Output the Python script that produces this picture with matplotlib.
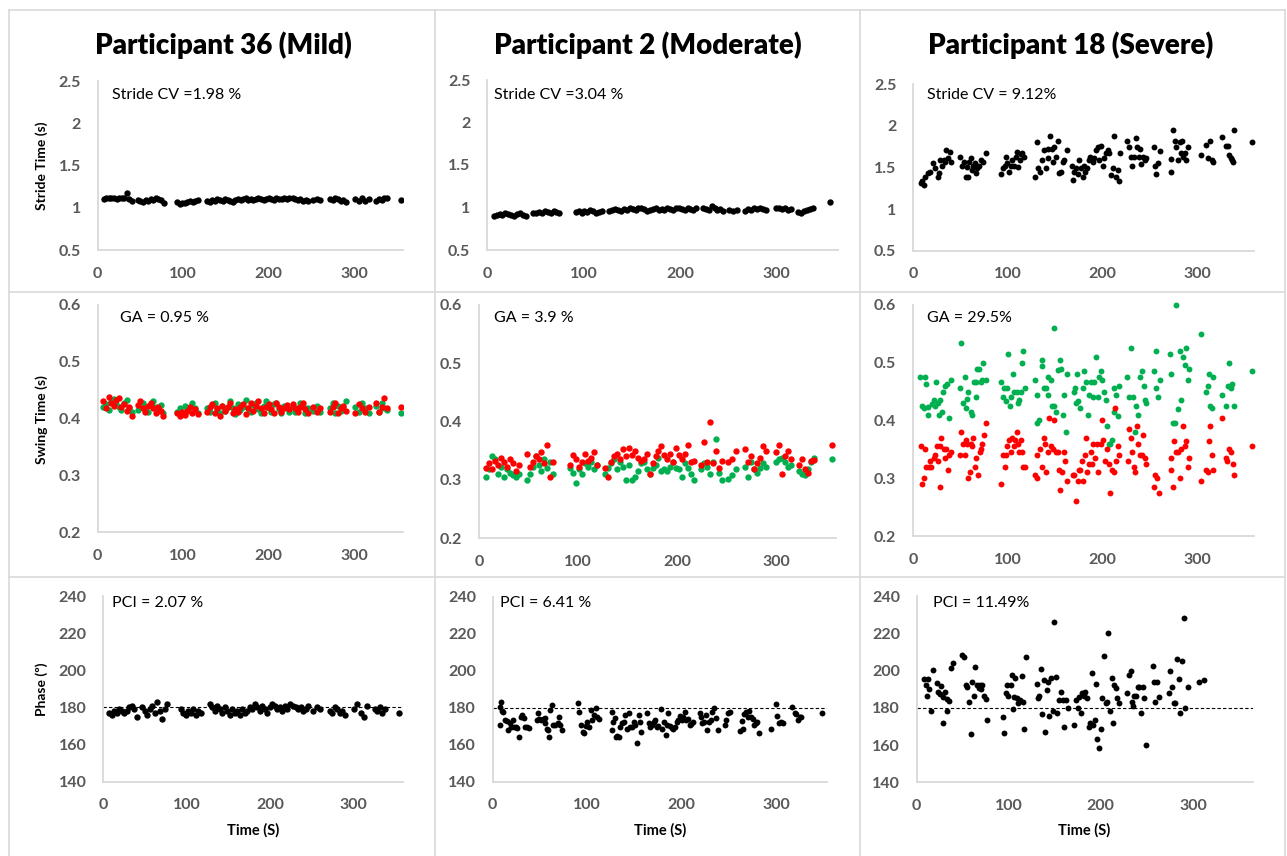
import matplotlib.pyplot as plt
from matplotlib.lines import Line2D

plt.rcParams['font.family'] = ['Lato', 'DejaVu Sans']

# ---------------- datos ----------------
titulos = ['Participant 36 (Mild)', 'Participant 2 (Moderate)', 'Participant 18 (Severe)']
textos_stride = ['Stride CV =1.98 %', 'Stride CV =3.04 %', 'Stride CV = 9.12%']
textos_ga = ['GA = 0.95 %', 'GA = 3.9 %', 'GA = 29.5%']
textos_pci = ['PCI = 2.07 %', 'PCI = 6.41 %', 'PCI = 11.49%']

xticks = [0, 100, 200, 300]
stride_ticks = [0.5, 1, 1.5, 2, 2.5]
stride_labels = ['0.5', '1', '1.5', '2', '2.5']
swing_ticks = [0.2, 0.3, 0.4, 0.5, 0.6]
swing_labels = ['0.2', '0.3', '0.4', '0.5', '0.6']
phase_ticks = [140, 160, 180, 200, 220, 240]
phase_labels = ['140', '160', '180', '200', '220', '240']

# Participante 36 (leve): tiempos de zancada
t36 = [7, 10, 13, 16, 19, 22, 25, 28, 31, 34, 37, 40,
       47, 50, 53, 56, 59, 62, 65, 68, 71, 74, 77,
       93, 96, 99, 102, 105, 108, 111, 114, 117,
       128, 131, 134, 137, 140, 143, 146, 149, 152, 155, 158, 161, 164, 167, 170, 173, 176,
       179, 182, 185, 188, 191, 194, 197, 200, 203, 206, 209, 212, 215, 218, 221, 224,
       228, 231, 234, 237, 240, 243, 246,
       252, 256, 260,
       272, 275, 278, 281, 284, 287, 290,
       301, 305, 309, 313, 317,
       326, 329, 332, 335, 338,
       355]
stride36 = [1.10, 1.11, 1.12, 1.11, 1.12, 1.10, 1.11, 1.12, 1.11, 1.17, 1.10, 1.08,
            1.09, 1.08, 1.07, 1.09, 1.08, 1.10, 1.09, 1.11, 1.10, 1.09, 1.06,
            1.07, 1.05, 1.06, 1.06, 1.07, 1.08, 1.07, 1.08, 1.09,
            1.08, 1.07, 1.09, 1.08, 1.10, 1.09, 1.08, 1.10, 1.09, 1.08, 1.07, 1.09, 1.10, 1.09, 1.10, 1.11, 1.09,
            1.10, 1.09, 1.10, 1.11, 1.10, 1.09, 1.10, 1.11, 1.10, 1.09, 1.11, 1.10, 1.10, 1.11, 1.10, 1.12,
            1.11, 1.10, 1.09, 1.10, 1.08, 1.09, 1.08,
            1.09, 1.10, 1.09,
            1.10, 1.09, 1.11, 1.10, 1.08, 1.09, 1.07,
            1.10, 1.08, 1.11, 1.08, 1.10,
            1.08, 1.10, 1.09, 1.11, 1.12,
            1.09]
swing36_l = [0.420, 0.425, 0.415, 0.430, 0.435, 0.425, 0.420, 0.415, 0.428, 0.432, 0.418, 0.412,
             0.415, 0.422, 0.428, 0.418, 0.412, 0.425, 0.430, 0.420, 0.414, 0.424, 0.410,
             0.412, 0.418, 0.408, 0.422, 0.415, 0.420, 0.428, 0.418, 0.410,
             0.418, 0.412, 0.424, 0.428, 0.416, 0.410, 0.422, 0.414, 0.420, 0.430, 0.418, 0.408, 0.425, 0.415,
             0.420, 0.432, 0.418, 0.412, 0.424, 0.428, 0.416, 0.410, 0.422, 0.430, 0.418, 0.412, 0.425, 0.428,
             0.416, 0.410, 0.422, 0.418, 0.412,
             0.420, 0.412, 0.418, 0.428, 0.422, 0.410, 0.418,
             0.414, 0.422, 0.412,
             0.418, 0.428, 0.410, 0.422, 0.414, 0.420, 0.430,
             0.420, 0.412, 0.428, 0.418, 0.410,
             0.422, 0.412, 0.428, 0.418, 0.415,
             0.410]
swing36_r = [0.430, 0.418, 0.438, 0.428, 0.422, 0.432, 0.436, 0.420, 0.426, 0.414, 0.420, 0.405,
             0.424, 0.430, 0.418, 0.412, 0.422, 0.428, 0.418, 0.410, 0.420, 0.414, 0.405,
             0.410, 0.404, 0.412, 0.406, 0.414, 0.420, 0.410, 0.416, 0.408,
             0.412, 0.420, 0.426, 0.410, 0.418, 0.405, 0.422, 0.414, 0.420, 0.428, 0.410, 0.416, 0.412, 0.420,
             0.426, 0.408, 0.418, 0.428, 0.414, 0.422, 0.430, 0.418, 0.410, 0.420, 0.426, 0.416, 0.410, 0.428,
             0.420, 0.412, 0.418, 0.424, 0.416,
             0.426, 0.418, 0.412, 0.420, 0.428, 0.416, 0.410,
             0.420, 0.412, 0.418,
             0.412, 0.420, 0.428, 0.410, 0.418, 0.422, 0.414,
             0.410, 0.426, 0.418, 0.412, 0.420,
             0.428, 0.412, 0.420, 0.436, 0.418,
             0.420]
phase36 = [177, 176, 178, 177, 179, 178, 177, 178, 180, 181, 179, 175,
           180, 178, 176, 179, 181, 177, 183, 178, 174, 179, 182,
           179, 177, 176, 178, 177, 179, 176, 178, 177,
           182, 180, 178, 181, 179, 177, 180, 178, 176, 179, 177, 178, 176, 179, 177, 178, 180,
           179, 182, 180, 178, 181, 179, 177, 180, 182, 181, 179, 180, 178, 181, 179, 182,
           181, 180, 179, 180, 178, 179, 181,
           178, 180, 179,
           178, 177, 180, 179, 177, 178, 176,
           179, 182, 177, 175, 181,
           179, 178, 180, 177, 179,
           177]

# Participante 2 (moderado)
t2 = [7, 10, 13, 16, 19, 22, 25, 28, 31, 34, 37, 40,
      48, 51, 54, 57, 60, 63, 66, 69, 72, 75,
      92, 95, 98, 101, 104, 107, 110, 113, 116, 119,
      127, 130, 133, 136, 139, 142, 145, 148, 151, 154, 157, 160, 163, 166, 169, 172,
      175, 178, 181, 184, 187, 190, 193, 196, 199, 202, 205, 208, 211, 214, 217,
      224, 227, 230, 233, 236, 239, 242, 245,
      251, 255, 259,
      268, 271, 274, 277, 280, 283, 286, 289,
      300, 303, 306, 309, 312, 315,
      323, 326, 329, 332, 335, 338,
      356]
stride2 = [0.90, 0.91, 0.92, 0.91, 0.93, 0.92, 0.91, 0.90, 0.92, 0.93, 0.91, 0.90,
           0.93, 0.94, 0.95, 0.94, 0.96, 0.95, 0.94, 0.96, 0.95, 0.93,
           0.95, 0.96, 0.94, 0.96, 0.95, 0.97, 0.96, 0.94, 0.95, 0.96,
           0.96, 0.97, 0.98, 0.97, 0.96, 0.98, 0.97, 0.99, 0.98, 0.97, 0.99, 1.00, 0.98, 0.96, 0.97, 0.98,
           0.99, 0.97, 0.98, 0.97, 0.99, 0.98, 0.97, 0.99, 1.00, 0.98, 0.97, 0.99, 0.98, 0.97, 0.99,
           1.00, 0.98, 0.97, 1.02, 0.99, 0.97, 0.98, 0.96,
           0.97, 0.96, 0.97,
           0.96, 0.98, 0.97, 0.99, 0.98, 1.00, 0.98, 0.97,
           0.99, 1.00, 0.98, 0.99, 0.97, 0.98,
           0.95, 0.94, 0.96, 0.97, 0.98, 0.99,
           1.06]
swing2_r = [0.320, 0.328, 0.318, 0.332, 0.325, 0.338, 0.330, 0.322, 0.336, 0.328, 0.315, 0.325,
            0.345, 0.322, 0.330, 0.340, 0.335, 0.348, 0.328, 0.360, 0.305, 0.330,
            0.325, 0.342, 0.335, 0.322, 0.330, 0.345, 0.332, 0.338, 0.348, 0.326,
            0.320, 0.305, 0.330, 0.340, 0.345, 0.335, 0.352, 0.340, 0.355, 0.342, 0.350, 0.338, 0.332, 0.335,
            0.345, 0.310, 0.328, 0.340, 0.350, 0.358, 0.342, 0.335, 0.345, 0.330, 0.355, 0.342, 0.336, 0.345,
            0.360, 0.330, 0.332,
            0.325, 0.365, 0.330, 0.400, 0.328, 0.350, 0.320, 0.332,
            0.330, 0.335, 0.350,
            0.352, 0.330, 0.340, 0.318, 0.328, 0.338, 0.358, 0.350,
            0.348, 0.360, 0.310, 0.340, 0.350, 0.336,
            0.325, 0.335, 0.318, 0.312, 0.332, 0.334,
            0.360]
swing2_l = [0.305, 0.318, 0.340, 0.335, 0.310, 0.322, 0.305, 0.318, 0.312, 0.308, 0.305, 0.310,
            0.300, 0.310, 0.322, 0.340, 0.325, 0.315, 0.335, 0.320, 0.330, 0.310,
            0.320, 0.312, 0.295, 0.318, 0.310, 0.328, 0.322, 0.330, 0.318, 0.325,
            0.310, 0.320, 0.328, 0.335, 0.318, 0.330, 0.322, 0.300, 0.325, 0.300, 0.305, 0.315, 0.328, 0.330,
            0.318, 0.310, 0.320, 0.325, 0.338, 0.315, 0.318, 0.315, 0.322, 0.330, 0.320, 0.318, 0.305, 0.328,
            0.320, 0.310, 0.300,
            0.318, 0.328, 0.322, 0.310, 0.330, 0.370, 0.312, 0.300,
            0.302, 0.308, 0.318,
            0.322, 0.305, 0.330, 0.318, 0.312, 0.320, 0.328, 0.322,
            0.330, 0.335, 0.338, 0.330, 0.322, 0.325,
            0.315, 0.310, 0.308, 0.318, 0.330, 0.338,
            0.335]
phase2 = [(8.7, 182.9), (7.7, 180.2), (9.4, 178.4), (7.7, 170.6), (11.2, 177.8), (12.9, 173.3),
          (15.4, 173), (16.4, 167.9), (18.2, 171.5), (19.9, 169.7), (21, 173.3), (22.7, 169.4),
          (24.5, 169.7), (25.9, 168.8), (28, 164), (29.7, 175.1), (31.5, 176), (32.9, 174.2),
          (33.9, 169.4), (36.4, 169.4), (38.5, 168.8), (47.9, 176.9), (46.9, 173.3), (49, 173.9),
          (51.4, 173.3), (53.1, 173.9), (54.9, 174.6), (55.9, 171.9), (57.3, 168.3), (58.4, 167.9),
          (60.1, 164), (60.8, 178.7), (62.6, 181.4), (64.3, 170.6), (66.4, 170.6), (68.9, 171.5),
          (70.6, 175.1), (71.7, 170.6), (73.4, 167.9), (89.9, 182.7), (91.6, 177.8), (93.4, 170.6),
          (95.1, 167), (96.9, 166.1), (98.6, 170.1), (100.3, 172.4), (102.1, 169.4), (103.8, 178.7),
          (105.6, 173.3), (107.3, 176), (109.1, 179.6), (110.8, 174.8), (112.6, 173.7),
          (125.9, 177.8), (125.9, 167.9), (127.6, 172.4), (129.4, 174.2), (130.1, 164), (131.8, 164.7),
          (133.6, 164.3), (135.3, 169.4), (137.1, 171.5), (138.8, 172.4), (140.6, 176), (142.3, 168.3),
          (144, 176.9), (145.8, 169.4), (147.6, 169.4), (149.3, 172.4), (151, 170.6), (152.8, 161.1),
          (154.5, 176), (155.6, 172.4), (157.3, 167), (163.3, 176.9), (165, 171.5), (166.8, 169.4),
          (168.5, 170.6), (170.3, 172.4), (172, 173.3), (173.8, 169.4), (175.5, 170.1), (178, 179.1),
          (179.7, 168.3), (181.5, 172.4), (183.2, 165.2), (185, 170.6), (186, 176.9), (187.8, 170.1),
          (189.5, 168.8), (191.3, 168.3), (193, 169.4), (194.8, 172.4), (196.5, 173.3), (198.3, 175.5),
          (200, 173.3), (201.7, 174.8), (203.5, 177.8), (205.2, 173.3), (207, 173.7), (208.7, 170.6),
          (210.5, 171.2), (212.2, 172.4), (219.2, 176.9), (221, 174.8), (221.7, 171.5), (223.8, 172.4),
          (226.2, 176), (227.3, 167.9), (229, 172.4), (230.8, 173.3), (232.5, 177.8), (234.3, 179.6),
          (236, 174.2), (238.5, 167.9), (245.5, 170.6), (247.2, 173.3), (249, 176.9), (251.7, 177.8),
          (262.2, 167.6), (263.6, 173), (264.7, 168.3), (266.4, 176.6), (268.2, 177.8), (269.9, 174.8),
          (271.7, 178.4), (273.4, 175.1), (275.2, 173.7), (276.9, 170.6), (278.7, 171.9), (280.4, 172.4),
          (282.2, 166.1), (294.4, 168.3), (299.7, 182), (301.4, 175.5), (303.1, 171.5), (305.6, 172.4),
          (307.7, 171.9), (317.1, 180.2), (319.6, 177.3), (321.7, 176.6), (323.1, 173.3), (325.2, 174.8),
          (326.6, 175.1), (348.6, 177.3)]

# Participante 18 (severo)
stride18 = [(8.5, 1.31), (9.5, 1.34), (11.3, 1.29), (13, 1.39), (15.9, 1.43), (17.7, 1.45), (21.2, 1.55),
            (23.7, 1.49), (26, 1.38), (27.6, 1.43), (29, 1.59), (30.7, 1.52), (32.5, 1.59), (34.3, 1.56),
            (35.3, 1.71), (36.7, 1.61), (38.9, 1.68), (39.6, 1.56), (49.5, 1.62), (52, 1.52), (53.7, 1.56),
            (55.5, 1.39), (56.5, 1.50), (58, 1.38), (59, 1.56), (60.8, 1.61), (62.5, 1.47), (63.6, 1.52),
            (65, 1.55), (66, 1.43), (67.8, 1.49), (69.6, 1.52), (71.4, 1.59), (74.2, 1.56), (76.7, 1.67),
            (93.3, 1.42), (95.4, 1.49), (97, 1.52), (98.6, 1.63), (99.6, 1.55), (101.4, 1.45), (103.2, 1.52),
            (105, 1.59), (106.7, 1.52), (108.5, 1.63), (110.2, 1.68), (111.3, 1.50), (113, 1.59),
            (114.5, 1.66), (115.5, 1.67), (117.3, 1.63), (128.6, 1.39), (131.4, 1.81), (132, 1.49),
            (134.3, 1.45), (136.7, 1.59), (138.5, 1.71), (140.3, 1.49), (142, 1.72), (142.8, 1.61),
            (145, 1.88), (146.3, 1.72), (147.3, 1.56), (149, 1.75), (150.9, 1.63), (152.7, 1.82),
            (154.4, 1.43), (156, 1.45), (158, 1.56), (159.7, 1.59), (162.5, 1.71), (167.5, 1.52),
            (169.3, 1.35), (170.3, 1.45), (172, 1.49), (173.9, 1.42), (175.6, 1.59), (177.4, 1.49),
            (179.2, 1.39), (180.2, 1.52), (181.6, 1.45), (183.7, 1.49), (185.5, 1.59), (187.3, 1.63),
            (188.7, 1.59), (189.8, 1.56), (191.5, 1.61), (193.3, 1.71), (195, 1.74), (196.8, 1.59),
            (198.6, 1.76), (200.3, 1.52), (202, 1.61), (203.9, 1.67), (205.6, 1.71), (207.4, 1.67),
            (209.2, 1.41), (211, 1.49), (212.7, 1.88), (214.5, 1.38), (216.3, 1.47), (217.3, 1.34),
            (219, 1.67), (225.8, 1.82), (228, 1.74), (229.7, 1.63), (231.1, 1.52), (233.3, 1.63),
            (235.7, 1.85), (236.7, 1.74), (238.1, 1.63), (239.6, 1.72), (241, 1.54), (242.8, 1.63),
            (244.5, 1.59), (246.3, 1.61), (254.4, 1.74), (255.8, 1.52), (257, 1.42), (258.7, 1.55),
            (260.4, 1.70), (272.1, 1.60), (272.8, 1.45), (274.6, 1.95), (276.3, 1.82), (278, 1.74),
            (280, 1.59), (281.6, 1.81), (282.7, 1.67), (284.1, 1.82), (285, 1.63), (286.9, 1.67),
            (288.7, 1.59), (290.5, 1.74), (304, 1.65), (308.8, 1.77), (311, 1.61), (313.4, 1.82),
            (315.2, 1.59), (317, 1.57), (325.8, 1.87), (330, 1.76), (332.9, 1.76), (334, 1.65),
            (335.3, 1.61), (336.4, 1.59), (337.5, 1.57), (339.2, 1.95), (358.3, 1.80)]
swing18_l = [(7.8, 0.476), (12.4, 0.476), (9.5, 0.425), (11.3, 0.421), (13.8, 0.464), (15.5, 0.424),
             (16.3, 0.41), (20, 0.429), (22, 0.436), (23.7, 0.425), (24.7, 0.466), (26, 0.43),
             (28.3, 0.436), (27.6, 0.41), (30.7, 0.415), (31.8, 0.45), (34, 0.459), (36, 0.464),
             (37.5, 0.405), (39.6, 0.47), (49.5, 0.456), (50.9, 0.535), (52.7, 0.43), (54.4, 0.475),
             (55.8, 0.421), (57.2, 0.438), (58, 0.45), (60.8, 0.415), (62, 0.41), (64.3, 0.466),
             (66, 0.441), (67, 0.466), (68, 0.49), (69.6, 0.49), (71.4, 0.466), (73, 0.47), (74.2, 0.499),
             (76.7, 0.47), (93.3, 0.466), (95.4, 0.441), (96, 0.456), (97.9, 0.434), (99.6, 0.456),
             (100.7, 0.515), (102.5, 0.425), (103.9, 0.441), (105.6, 0.48), (106.7, 0.45), (109.5, 0.45),
             (110.9, 0.43), (112, 0.436), (113.8, 0.45), (114.8, 0.5), (116.3, 0.52), (118, 0.456),
             (129, 0.47), (131.4, 0.445), (131.4, 0.395), (133, 0.4), (136, 0.505), (136.7, 0.494),
             (137.8, 0.456), (140, 0.456), (142, 0.445), (142.8, 0.476), (145.6, 0.47), (146.3, 0.425),
             (148.4, 0.561), (149, 0.425), (150.9, 0.415), (153.4, 0.487), (155, 0.505), (156, 0.49),
             (158, 0.41), (159.7, 0.445), (161, 0.38), (163, 0.48), (169.6, 0.45), (171, 0.456),
             (172, 0.43), (173, 0.48), (174.6, 0.434), (176.7, 0.421), (179, 0.456), (180.2, 0.486),
             (182.7, 0.466), (184.5, 0.41), (186.2, 0.445), (188, 0.466), (189.8, 0.44), (191.5, 0.466),
             (193.3, 0.51), (195, 0.44), (196, 0.476), (198, 0.486), (199.3, 0.47), (201.4, 0.45),
             (203.9, 0.436), (205, 0.39), (206.4, 0.36), (208.5, 0.36), (209.9, 0.366), (211.7, 0.415),
             (212.7, 0.456), (214.5, 0.445), (216.3, 0.407), (218, 0.46), (225.8, 0.475), (227.6, 0.44),
             (229.7, 0.525), (232, 0.44), (234, 0.38), (235.7, 0.425), (237.5, 0.41), (240, 0.475),
             (241.7, 0.486), (243.8, 0.46), (244.5, 0.436), (246.3, 0.43), (254.4, 0.486), (256.2, 0.456),
             (257, 0.52), (258.7, 0.44), (260.4, 0.47), (271, 0.515), (272.8, 0.48), (274.6, 0.395),
             (276.3, 0.395), (278, 0.6), (280, 0.42), (281.6, 0.52), (283.4, 0.436), (285, 0.51),
             (286.9, 0.496), (288.7, 0.525), (289.8, 0.47), (291.5, 0.49), (304, 0.55), (308.8, 0.45),
             (311, 0.46), (312.4, 0.48), (313.4, 0.425), (315.2, 0.421), (317, 0.475), (325.8, 0.445),
             (330.4, 0.425), (332.9, 0.46), (334, 0.5), (335.3, 0.456), (337, 0.464), (338.9, 0.425),
             (358.3, 0.486)]
swing18_r = [(8.8, 0.355), (9.9, 0.29), (11.3, 0.3), (13, 0.35), (14.1, 0.32), (16.6, 0.32), (17.7, 0.33),
             (19.1, 0.32), (22, 0.335), (23.7, 0.34), (25.4, 0.355), (26, 0.33), (28.3, 0.285),
             (29, 0.355), (30, 0.37), (32.5, 0.35), (33.6, 0.335), (35.3, 0.35), (36.7, 0.314),
             (38.2, 0.34), (39.6, 0.346), (49.5, 0.34), (50.9, 0.38), (53, 0.36), (54.4, 0.34),
             (55.5, 0.366), (56.5, 0.36), (58, 0.3), (59.7, 0.31), (60.8, 0.36), (62, 0.355), (63.6, 0.37),
             (65.4, 0.32), (67, 0.335), (68.6, 0.306), (70.3, 0.346), (71.4, 0.35), (73, 0.36),
             (74.9, 0.375), (76.7, 0.395), (93.3, 0.29), (95.4, 0.34), (96.8, 0.32), (98.6, 0.34),
             (99.6, 0.355), (101.4, 0.366), (103.2, 0.346), (105, 0.37), (106.7, 0.355), (107.8, 0.366),
             (109.5, 0.38), (111.3, 0.36), (112, 0.346), (113.8, 0.366), (114.8, 0.346), (116.6, 0.32),
             (118, 0.32), (128.6, 0.306), (130.4, 0.3), (131.4, 0.34), (134.3, 0.35), (135.7, 0.32),
             (137.8, 0.37), (139.2, 0.36), (140.3, 0.31), (142, 0.346), (143.8, 0.405), (145.6, 0.355),
             (147.7, 0.35), (149, 0.4), (150.9, 0.346), (152.7, 0.346), (154.4, 0.314), (155.5, 0.28),
             (157.2, 0.31), (159, 0.346), (160.8, 0.33), (162.5, 0.296), (168.6, 0.306), (170.3, 0.306),
             (172, 0.26), (173.9, 0.296), (175.6, 0.314), (176.7, 0.314), (178, 0.33), (179.9, 0.296),
             (181.6, 0.34), (182.7, 0.37), (183.7, 0.31), (186.2, 0.325), (188, 0.346), (189, 0.325),
             (190.5, 0.36), (192.2, 0.335), (194.3, 0.36), (195.8, 0.31), (198, 0.36), (199.3, 0.4),
             (201, 0.366), (203.2, 0.33), (205, 0.35), (206.4, 0.325), (208.5, 0.275), (209.9, 0.314),
             (211.7, 0.31), (213.4, 0.421), (214.5, 0.33), (216.3, 0.355), (218, 0.34), (226.9, 0.33),
             (228, 0.385), (229.7, 0.37), (231.1, 0.346), (232.9, 0.32), (234.7, 0.31), (236, 0.39),
             (237.5, 0.36), (239.6, 0.34), (241.7, 0.34), (243.1, 0.375), (244.5, 0.335), (246.3, 0.325),
             (254.4, 0.285), (255.8, 0.306), (258, 0.3), (259.7, 0.275), (272.1, 0.335), (272.8, 0.314),
             (274.6, 0.285), (275.6, 0.365), (277.7, 0.346), (280, 0.346), (281.6, 0.3), (283.4, 0.35),
             (285, 0.39), (286.9, 0.355), (288.7, 0.365), (289.8, 0.32), (291.5, 0.335), (304, 0.296),
             (309, 0.314), (311, 0.31), (312.7, 0.365), (314, 0.39), (315.2, 0.34), (317, 0.314),
             (326.5, 0.405), (330.4, 0.335), (332, 0.33), (334, 0.35), (335.7, 0.346), (337.5, 0.325),
             (339.2, 0.306), (358.3, 0.355)]
phase18 = [(8.3, 195.3), (10.1, 192.2), (12, 195.3), (10.9, 186.3), (13.4, 189.9), (15.2, 178.5),
           (18.1, 200.3), (21.7, 193.5), (23.6, 188.7), (25.4, 187.4), (26.8, 191.7), (29, 172),
           (29, 186), (30.8, 188.7), (32.6, 184.5), (33.3, 178.5), (35.5, 183.8), (37.3, 201.2),
           (39.9, 204.2), (49.3, 208.3), (51.4, 207.1), (53.6, 192.2), (55, 191.3), (57.2, 183.3),
           (58.7, 165.8), (60.1, 194), (62.3, 186.3), (63.4, 201.7), (65.2, 192.2), (67.4, 190.4),
           (68.8, 192.2), (69.6, 189.9), (71.4, 192.2), (73.6, 186.3), (75.4, 184.5), (76.8, 173.4),
           (94.2, 174.9), (95.3, 166.7), (96.7, 188.1), (98.6, 192.2), (99.6, 186.3), (102.2, 192.2),
           (103.3, 197.6), (104.3, 179.2), (105.8, 186), (106.9, 195.8), (109.4, 185.1), (110.5, 182.8),
           (112.3, 184.2), (114.1, 197.1), (115.2, 183.3), (116.7, 168.4), (118.5, 207.4),
           (130.4, 192.8), (131.5, 185.1), (133, 186.3), (135.1, 200.6), (136.6, 176.7), (138, 194.9),
           (139.5, 167.2), (141.3, 189.6), (142.4, 194), (144.2, 175.6), (146, 195.8), (147.8, 178.5),
           (149.3, 226.2), (151.1, 196.4), (152.9, 177), (154.7, 184.2), (156.9, 188.7), (158.7, 184.2),
           (160.5, 169.5), (162.3, 184.2), (164.1, 179.7), (171, 170.8), (173.2, 184.2), (175, 179.7),
           (176.8, 185.6), (178.3, 177), (179.7, 187.8), (181.9, 186.3), (183.3, 188.7), (185.5, 185.1),
           (187, 169.9), (188.4, 172), (190.2, 198.5), (192, 170.8), (193.8, 173.5), (194.9, 192.8),
           (196.4, 163.1), (198.2, 158.2), (200, 168.4), (201.8, 185.1), (203.6, 207.8), (205.4, 182.4),
           (206.5, 183.3), (208.3, 220), (210.1, 178.5), (211.9, 195.8), (213, 171.7), (214.5, 192.2),
           (216.3, 190.4), (217.4, 185.1), (220.3, 182.4), (228.3, 188.1), (230.1, 197.6), (232.6, 200),
           (233.7, 183.3), (235.5, 181), (236.2, 186.3), (238.4, 186.3), (240.2, 191.3), (242, 191.3),
           (243.5, 177), (245.3, 191.3), (247.1, 185.1), (248.6, 160), (256.5, 202.4), (257.9, 194),
           (259.4, 183.3), (260.9, 194), (262.7, 185.6), (273.6, 187.8), (275.4, 200), (277.2, 191),
           (279, 182.8), (280.8, 182.8), (282.6, 206), (284.4, 195.3), (286.2, 177.4), (288, 205.3),
           (290.6, 228), (291.7, 179.7), (294.2, 191.3), (306.2, 194), (311.6, 194.9)]

VERDE = '#00b050'
ROJO = '#ff0000'
GRIS = '#d9d9d9'
TEXTO_EJES = '#595959'

# ---------------- figura ----------------
W, H = 1287, 856
fig = plt.figure(figsize=(W / 100, H / 100), dpi=100)


def ejes(izq, arriba, der, abajo):
    # posicion en pixeles -> fraccion de figura
    return fig.add_axes([izq / W, 1 - abajo / H, (der - izq) / W, (abajo - arriba) / H])


def estilo(ax, xmax, lim, ticks, labels):
    ax.set_xlim(0, xmax)
    ax.set_ylim(lim)
    ax.set_xticks(xticks)
    ax.set_yticks(ticks)
    ax.set_yticklabels(labels)
    for s in ['top', 'right']:
        ax.spines[s].set_visible(False)
    for s in ['left', 'bottom']:
        ax.spines[s].set_color(GRIS)
        ax.spines[s].set_linewidth(1.3)
    ax.tick_params(length=0, labelsize=11.5, colors=TEXTO_EJES)
    ax.tick_params(axis='x', pad=12)
    ax.tick_params(axis='y', pad=12)
    for lab in ax.get_xticklabels() + ax.get_yticklabels():
        lab.set_fontweight('bold')


def texto(x, y, s, **kw):
    fig.text(x / W, 1 - y / H, s, **kw)


def puntos(ax, pares, color):
    ax.scatter([p[0] for p in pares], [p[1] for p in pares], s=18, color=color, linewidths=0, clip_on=False)


TAM = 21  # tamano de los puntos densos

# fila 1: tiempo de zancada
a11 = ejes(97.7, 81, 403, 250)
a11.scatter(t36, stride36, s=TAM, color='black', linewidths=0)
estilo(a11, 357, (0.5, 2.5), stride_ticks, stride_labels)

a12 = ejes(487, 80, 838, 250)
a12.scatter(t2, stride2, s=TAM, color='black', linewidths=0)
estilo(a12, 364, (0.5, 2.5), stride_ticks, stride_labels)

a13 = ejes(913, 84, 1254, 250.7)
puntos(a13, stride18, 'black')
estilo(a13, 360, (0.5, 2.5), stride_ticks, stride_labels)

# fila 2: tiempo de balanceo (verde y rojo)
a21 = ejes(97.5, 305, 403, 532)
a21.scatter(t36, swing36_l, s=TAM, color=VERDE, linewidths=0)
a21.scatter(t36, swing36_r, s=TAM, color=ROJO, linewidths=0)
estilo(a21, 357, (0.2, 0.6), swing_ticks, swing_labels)

a22 = ejes(479, 305, 836, 538)
a22.scatter(t2, swing2_l, s=TAM, color=VERDE, linewidths=0)
a22.scatter(t2, swing2_r, s=TAM, color=ROJO, linewidths=0)
estilo(a22, 360, (0.2, 0.6), swing_ticks, swing_labels)

a23 = ejes(913, 305, 1254, 536)
puntos(a23, swing18_l, VERDE)
puntos(a23, swing18_r, ROJO)
estilo(a23, 360, (0.2, 0.6), swing_ticks, swing_labels)

# fila 3: fase
a31 = ejes(103.3, 596, 403.3, 781.7)
a31.scatter(t36, phase36, s=TAM, color='black', linewidths=0)
estilo(a31, 360, (140, 240), phase_ticks, phase_labels)

a32 = ejes(492.7, 596.7, 827, 781.7)
puntos(a32, phase2, 'black')
estilo(a32, 354, (140, 240), phase_ticks, phase_labels)

a33 = ejes(916.7, 596, 1252.7, 782.3)
puntos(a33, phase18, 'black')
estilo(a33, 365, (140, 240), phase_ticks, phase_labels)

for ax in [a31, a32, a33]:
    ax.axhline(180, color='black', lw=0.8, dashes=(3, 2), zorder=0)

# titulos y textos
for cx, tit in zip([223, 648, 1071], titulos):
    texto(cx, 45, tit, ha='center', va='center', fontsize=20, fontweight='heavy')
for x, s in zip([112, 494, 927], textos_stride):
    texto(x, 95, s, ha='left', va='center', fontsize=11.5)
for x, s in zip([120, 494, 927], textos_ga):
    texto(x, 318, s, ha='left', va='center', fontsize=11.5)
for x, s in zip([112, 500, 933], textos_pci):
    texto(x, 603, s, ha='left', va='center', fontsize=11.5)

texto(42, 166, 'Stride Time (s)', rotation=90, ha='center', va='center', fontsize=10, fontweight='bold')
texto(42, 420, 'Swing Time (s)', rotation=90, ha='center', va='center', fontsize=10, fontweight='bold')
texto(42, 689, 'Phase (º)', rotation=90, ha='center', va='center', fontsize=10, fontweight='bold')
for cx in [253, 660, 1084]:
    texto(cx, 830, 'Time (S)', ha='center', va='center', fontsize=10.5, fontweight='bold')


# lineas de la tabla
def linea(x0, y0, x1, y1):
    fig.add_artist(Line2D([x0 / W, x1 / W], [1 - y0 / H, 1 - y1 / H], color=GRIS, lw=1.2))


linea(9, 9.5, 1285, 9.5)
linea(9, 292, 1285, 292)
linea(9, 577, 1285, 577)
for xv in [9, 435, 860, 1285]:
    linea(xv, 9.5, xv, 856)

fig.savefig('out.png', dpi=100)
